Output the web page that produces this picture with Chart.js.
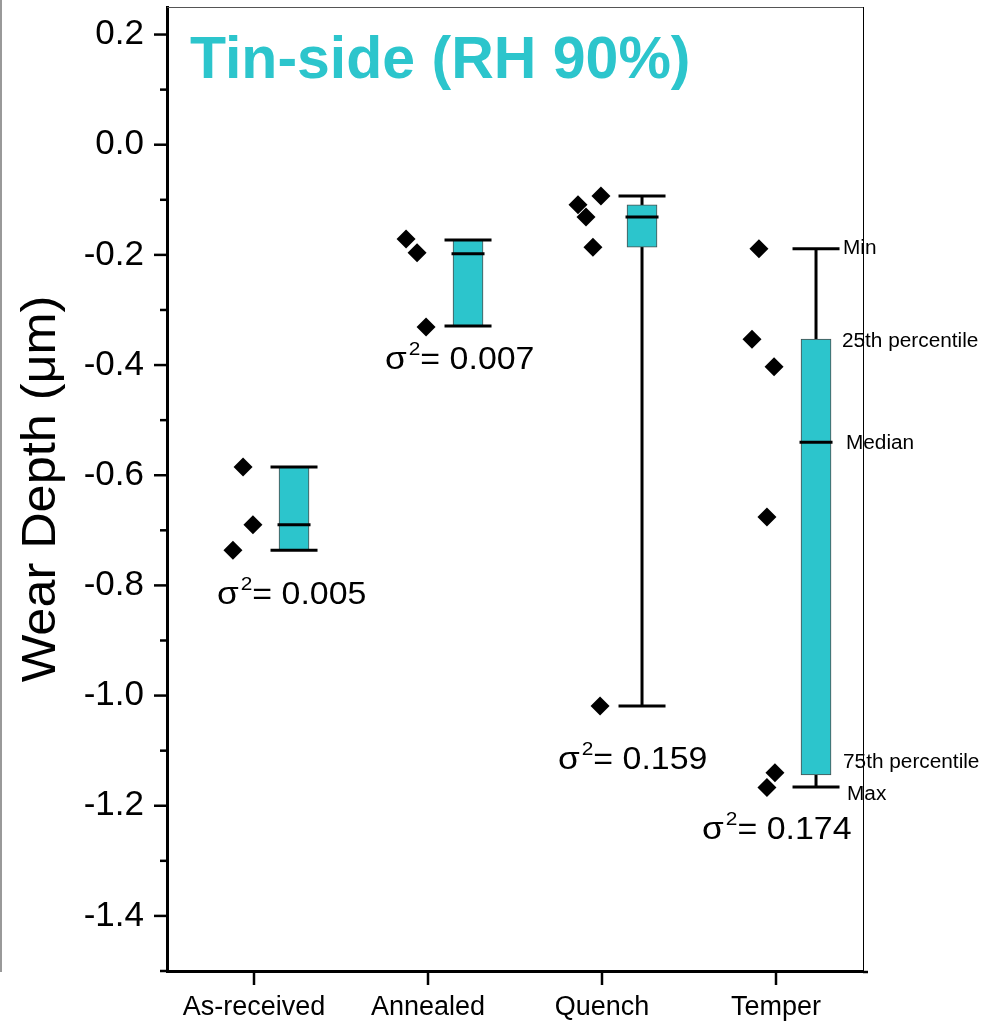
<!DOCTYPE html>
<html>
<head>
<meta charset="utf-8">
<title>Tin-side (RH 90%)</title>
<script src="https://cdn.jsdelivr.net/npm/chart.js@4/dist/chart.umd.min.js"></script>
<style>
  body { margin: 0; background: #fff; }
  #wrap { width: 992px; height: 1022px; }
</style>
</head>
<body>
<div id="wrap"><canvas id="wearChart" width="992" height="1022"></canvas></div>
<script>
// values (µm)
const categories = ['As-received', 'Annealed', 'Quench', 'Temper'];
const whiskerTop = [-0.585, -0.173, -0.093, -0.189];
const boxTop = [-0.585, -0.173, -0.109, -0.353];
const medians = [-0.690, -0.198, -0.131, -0.540];
const boxBottom = [-0.736, -0.329, -0.186, -1.144];
const whiskerBottom = [-0.736, -0.329, -1.019, -1.166];
const variances = ['0.005', '0.007', '0.159', '0.174'];

// raw measurements, one list per category
const pointValues = [
    [-0.585, -0.690, -0.736],
    [-0.171, -0.196, -0.331],
    [-0.093, -0.109, -0.131, -0.186, -1.019],
    [-0.189, -0.353, -0.403, -0.676, -1.140, -1.167]
];
// where each point sits inside its category slot (0..1)
const pointSlot = [
    [0.437, 0.494, 0.379],
    [0.374, 0.437, 0.489],
    [0.494, 0.362, 0.408, 0.448, 0.489],
    [0.402, 0.362, 0.489, 0.448, 0.494, 0.448]
];

const boxLabels = ['Min', '25th percentile', 'Median', '75th percentile', 'Max'];
const boxLabelY = [-0.189, -0.358, -0.543, -1.122, -1.179];
const boxLabelX = [3.885, 3.879, 3.902, 3.885, 3.908];

// sigma^2 label anchors (left edge, baseline)
const sigmaX = [0.287, 1.253, 2.247, 3.075];
const sigmaY = [-0.834, -0.407, -1.133, -1.260];

const FONT = "'Liberation Sans', Arial, sans-serif";
const CYAN = '#2cc5cc';
const boxSlot = 0.73;

const boxData = categories.map((c, i) => ({ x: i + boxSlot, y: [boxBottom[i], boxTop[i]] }));
const scatterData = [];
pointValues.forEach((vals, i) => {
    vals.forEach((v, j) => scatterData.push({ x: i + pointSlot[i][j], y: v }));
});

const hLine = (ctx, x1, x2, y) => {
    ctx.beginPath();
    ctx.moveTo(x1, y);
    ctx.lineTo(x2, y);
    ctx.stroke();
}

// text stretched horizontally, the source figure is a bit wide
const wideText = (ctx, text, x, y, stretch) => {
    ctx.save();
    ctx.translate(x, y);
    ctx.scale(stretch, 1);
    ctx.fillText(text, 0, 0);
    ctx.restore();
    return ctx.measureText(text).width * stretch;
}

const boxExtras = {
    id: 'boxExtras',
    beforeDatasetsDraw(chart) {
        const { ctx, scales: { x, y } } = chart;
        ctx.save();
        ctx.strokeStyle = '#000';
        ctx.lineWidth = 3;
        categories.forEach((c, i) => {
            const cx = x.getPixelForValue(i + boxSlot);
            ctx.beginPath();
            ctx.moveTo(cx, y.getPixelForValue(whiskerTop[i]));
            ctx.lineTo(cx, y.getPixelForValue(whiskerBottom[i]));
            ctx.stroke();
        });
        ctx.restore();
    },
    afterDatasetsDraw(chart) {
        const { ctx, scales: { x, y }, chartArea } = chart;
        ctx.save();
        ctx.strokeStyle = '#000';
        ctx.lineWidth = 3;
        categories.forEach((c, i) => {
            const cx = x.getPixelForValue(i + boxSlot);
            hLine(ctx, cx - 23.5, cx + 23.5, y.getPixelForValue(whiskerTop[i]));
            hLine(ctx, cx - 23.5, cx + 23.5, y.getPixelForValue(whiskerBottom[i]));
            hLine(ctx, cx - 16.5, cx + 16.5, y.getPixelForValue(medians[i]));
        });

        // sigma^2 labels
        ctx.fillStyle = '#000';
        ctx.textBaseline = 'alphabetic';
        ctx.textAlign = 'left';
        variances.forEach((v, i) => {
            let px = x.getPixelForValue(sigmaX[i]);
            const py = y.getPixelForValue(sigmaY[i]);
            ctx.font = '32px ' + FONT;
            px += wideText(ctx, '\u03c3', px, py, 1.1) + 2;
            ctx.font = '19px ' + FONT;
            px += wideText(ctx, '2', px, py - 14, 1.1);
            ctx.font = '32px ' + FONT;
            wideText(ctx, '= ' + v, px, py, 1.06);
        });

        // box legend on the Temper box
        ctx.font = '20px ' + FONT;
        ctx.textBaseline = 'middle';
        boxLabels.forEach((t, i) => {
            wideText(ctx, t, x.getPixelForValue(boxLabelX[i]), y.getPixelForValue(boxLabelY[i]), 1.04);
        });

        // panel title
        ctx.font = 'bold 59px ' + FONT;
        ctx.fillStyle = CYAN;
        ctx.textBaseline = 'alphabetic';
        ctx.fillText('Tin-side (RH 90%)', chartArea.left + 23, 78);

        // frame: thin top and right edges, left page edge
        ctx.lineWidth = 1;
        ctx.strokeStyle = '#555';
        hLine(ctx, chartArea.left, chartArea.right, chartArea.top + 0.5);
        ctx.strokeStyle = '#000';
        ctx.beginPath();
        ctx.moveTo(chartArea.right + 0.5, chartArea.top);
        ctx.lineTo(chartArea.right + 0.5, chartArea.bottom);
        ctx.stroke();
        ctx.strokeStyle = '#777';
        ctx.lineWidth = 1.5;
        ctx.beginPath();
        ctx.moveTo(1, 0);
        ctx.lineTo(1, chartArea.bottom + 1);
        ctx.stroke();

        // tick marks, outward
        ctx.strokeStyle = '#000';
        ctx.lineWidth = 2.5;
        y.ticks.forEach(t => {
            const py = y.getPixelForValue(t.value);
            const major = Math.round(t.value * 10) % 2 === 0;
            hLine(ctx, chartArea.left - (major ? 13 : 7), chartArea.left, py);
        });
        x.ticks.forEach(t => {
            const px = x.getPixelForValue(t.value);
            ctx.beginPath();
            ctx.moveTo(px, chartArea.bottom);
            ctx.lineTo(px, chartArea.bottom + 14);
            ctx.stroke();
        });
        hLine(ctx, chartArea.right, chartArea.right + 5, chartArea.bottom + 1);

        // y axis title
        ctx.save();
        ctx.translate(55, 489);
        ctx.rotate(-Math.PI / 2);
        ctx.font = '48px ' + FONT;
        ctx.fillStyle = '#000';
        ctx.textAlign = 'center';
        ctx.textBaseline = 'alphabetic';
        ctx.scale(1.05, 1);
        ctx.fillText('Wear Depth (\u03bcm)', 0, 0);
        ctx.restore();

        ctx.restore();
    }
};

const config = {
    type: 'bar',
    data: {
        datasets: [{
            type: 'bar',
            label: 'IQR',
            data: boxData,
            backgroundColor: CYAN,
            borderColor: '#4d4d4d',
            borderWidth: 1,
            borderSkipped: false,
            barThickness: 30,
            grouped: false
        }, {
            type: 'scatter',
            label: 'Measurements',
            data: scatterData,
            pointStyle: 'rectRot',
            pointRadius: 9.5,
            backgroundColor: '#000',
            borderWidth: 0
        }]
    },
    options: {
        responsive: false,
        animation: false,
        layout: { autoPadding: false, padding: { left: 0, top: 7, right: 129, bottom: 0 } },
        plugins: {
            legend: { display: false },
            tooltip: { enabled: false }
        },
        scales: {
            x: {
                type: 'linear',
                min: 0,
                max: 4,
                offset: false,
                grid: { display: true, drawOnChartArea: false, drawTicks: false, color: 'rgba(0,0,0,0)' },
                border: { display: true, color: '#000', width: 3 },
                afterBuildTicks: (scale) => {
                    scale.ticks = categories.map((c, i) => ({ value: i + 0.5 }));
                },
                afterFit: (scale) => {
                    scale.height = 51;
                    scale.paddingLeft = 0;
                    scale.paddingRight = 0;
                },
                ticks: {
                    color: '#000',
                    font: { family: FONT, size: 27 },
                    padding: 20,
                    maxRotation: 0,
                    autoSkip: false,
                    callback: (v) => categories[Math.floor(v)]
                }
            },
            y: {
                type: 'linear',
                min: -1.5,
                max: 0.25,
                grid: { display: true, drawOnChartArea: false, drawTicks: false, color: 'rgba(0,0,0,0)' },
                border: { display: true, color: '#000', width: 3 },
                afterBuildTicks: (scale) => {
                    const ticks = [];
                    for (let k = -15; k <= 2; k++) ticks.push({ value: k / 10 });
                    scale.ticks = ticks;
                },
                afterFit: (scale) => {
                    scale.width = 167;
                    scale.paddingTop = 0;
                    scale.paddingBottom = 0;
                },
                ticks: {
                    color: '#000',
                    font: { family: FONT, size: 35 },
                    padding: 23,
                    autoSkip: false,
                    callback: (v) => Math.round(v * 10) % 2 === 0 ? v.toFixed(1) : ''
                }
            }
        }
    },
    plugins: [boxExtras]
};

new Chart(document.getElementById('wearChart'), config);
</script>
</body>
</html>
